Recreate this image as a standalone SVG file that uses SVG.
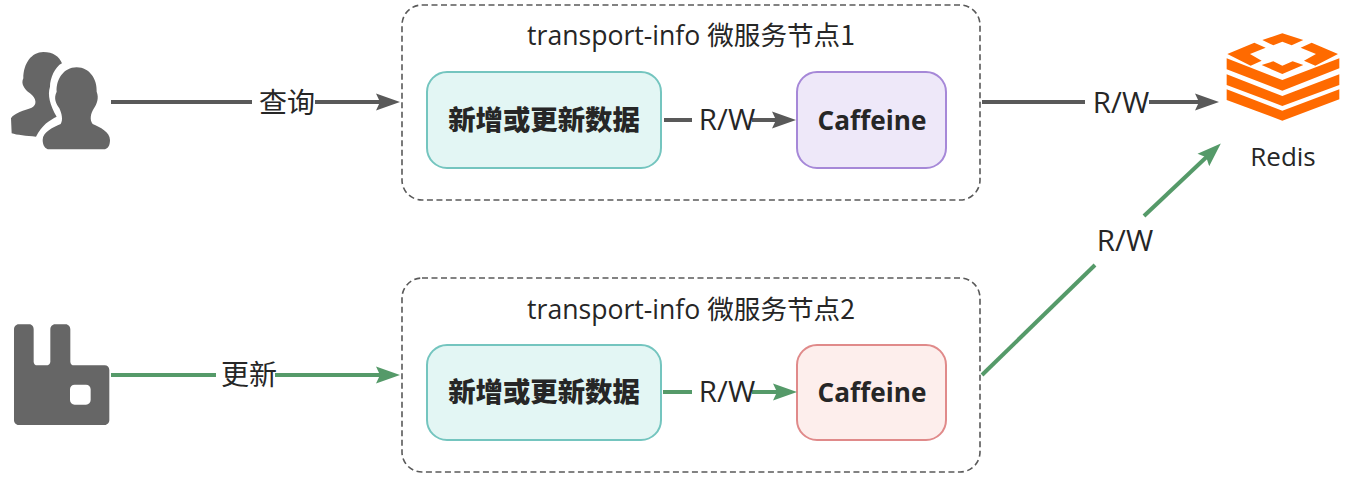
<svg xmlns="http://www.w3.org/2000/svg" width="1358" height="477" viewBox="0 0 1358 477">
<style>
text{font-family:"Open Sans","Noto Sans CJK SC",sans-serif;fill:#262626;text-anchor:middle}
.zh{font-family:"Noto Sans CJK SC",sans-serif}
.lb{font-size:29.5px}
.lz{font-size:28px}
.tt{font-size:26.6px}
.nb{font-size:26.2px;font-weight:700}
.nz{font-size:27.4px;font-weight:900}
.grp{fill:#fff;stroke:#595959;stroke-width:1.6;stroke-dasharray:6 3.5}
.svc{fill:#e3f6f4;stroke:#74c5bf;stroke-width:2}
.c{fill:none;stroke-width:4}
.gy{stroke:#595959}
.gn{stroke:#559a69}
.ic{fill:#666}
.rd{fill:#ff6a00}
</style>
<defs>
<marker id="ag" markerUnits="userSpaceOnUse" markerWidth="26" markerHeight="20" refX="16" refY="10" orient="auto"><path d="M0 1.500L24 10L0 18.500L4 10Z" fill="#595959"/></marker>
<marker id="an" markerUnits="userSpaceOnUse" markerWidth="26" markerHeight="20" refX="16" refY="10" orient="auto"><path d="M0 1.500L24 10L0 18.500L4 10Z" fill="#559a69"/></marker>
</defs>
<g id="node-group1"><rect class="grp" x="402" y="5" width="578" height="195" rx="20"/><text class="tt" x="691" y="45">transport-info <tspan class="zh">微服务节点1</tspan></text></g>
<g id="node-group2"><rect class="grp" x="402" y="278" width="578" height="194" rx="20"/><text class="tt" x="691" y="319">transport-info <tspan class="zh">微服务节点2</tspan></text></g>
<g id="node-service1"><rect class="svc" x="427" y="72" width="234" height="96" rx="20"/><text class="nz zh" x="544" y="130">新增或更新数据</text></g>
<g id="node-service2"><rect class="svc" x="427" y="345" width="234" height="95" rx="20"/><text class="nz zh" x="544" y="402">新增或更新数据</text></g>
<g id="node-caffeine1"><rect x="797" y="72" width="149" height="96" rx="20" fill="#eee8f9" stroke="#a688d8" stroke-width="2"/><text class="nb" x="872" y="130">Caffeine</text></g>
<g id="node-caffeine2"><rect x="797" y="345" width="149" height="95" rx="20" fill="#fdeeec" stroke="#e08a8a" stroke-width="2"/><text class="nb" x="872" y="402">Caffeine</text></g>
<g id="node-users"><path class="ic" transform="translate(0,30) scale(.3333)" d="M33 265C40 250 75 240 95 233C112 226 110 205 90 190C72 178 62 160 70 145C70 100 95 66 130 66C160 66 178 80 186 100C165 110 150 145 150 170C142 195 150 225 170 260C150 270 125 285 108 320C80 318 50 315 35 310Z"/><path class="ic" transform="translate(0,30) scale(.3333)" d="M128 330C128 305 160 292 182 282C190 270 185 250 178 235C168 220 160 205 170 185C168 150 190 112 230 112C270 112 292 150 290 185C298 205 290 222 282 235C272 250 268 270 278 282C300 292 330 305 330 330C330 345 325 358 310 358H148C135 358 128 345 128 330Z"/></g>
<g id="node-rabbitmq"><path class="ic" fill-rule="evenodd" transform="translate(0,310) scale(.3333)" d="M56 43H88C96 43 101 50 101 58V155C101 162 106 166 112 166H138C145 166 151 162 151 155V58C151 50 157 43 165 43H197C205 43 211 50 211 58V155C211 162 216 166 222 166H314C322 166 328 172 328 180V330C328 338 322 345 314 345H56C48 345 42 338 42 330V58C42 50 48 43 56 43ZM224 224C216 224 210 230 210 238V270C210 278 216 284 224 284H258C266 284 272 278 272 270V238C272 230 266 224 258 224Z"/></g>
<g id="node-redis"><g transform="translate(1210,20) scale(.3333)"><path class="rd" d="M157 60L217 40L280 60L245 76L217 65L190 76Z"/><path class="rd" d="M52 102L133 68L167 83L120 102L155 122L122 137Z"/><path class="rd" d="M384 102L305 68L272 83L318 102L282 122L316 137Z"/><path class="rd" d="M155 135L190 124L217 137L248 124L280 135L217 162Z"/><path class="rd" d="M50 115L217 180L388 115V145L217 212L50 148Z"/><path class="rd" d="M50 163L217 228L388 163V195L217 258L50 195Z"/><path class="rd" d="M50 208L217 272L388 208V238L217 302L50 240Z"/></g><text x="1283" y="166" style="font-size:26px">Redis</text></g>
<g id="connectors">
<path class="c gy" d="M111 102H252"/><path class="c gy" d="M315 102H392" marker-end="url(#ag)"/>
<path class="c gy" d="M664 120H692"/><path class="c gy" d="M752 120H788" marker-end="url(#ag)"/>
<path class="c gy" d="M982 102H1085"/><path class="c gy" d="M1149 102H1211" marker-end="url(#ag)"/>
<path class="c gn" d="M111 375H216"/><path class="c gn" d="M275 375H392" marker-end="url(#an)"/>
<path class="c gn" d="M663 392H692"/><path class="c gn" d="M752 392H789" marker-end="url(#an)"/>
<path class="c gn" d="M982 375L1095 265"/><path class="c gn" d="M1144 216L1215 149" marker-end="url(#an)"/>
<text class="lz zh" x="287" y="113">查询</text>
<text class="lz zh" x="249" y="385">更新</text>
<text class="lb" x="727" y="130">R/W</text>
<text class="lb" x="727" y="402">R/W</text>
<text class="lb" x="1121" y="113">R/W</text>
<text class="lb" x="1125" y="251">R/W</text>
</g>
</svg>
